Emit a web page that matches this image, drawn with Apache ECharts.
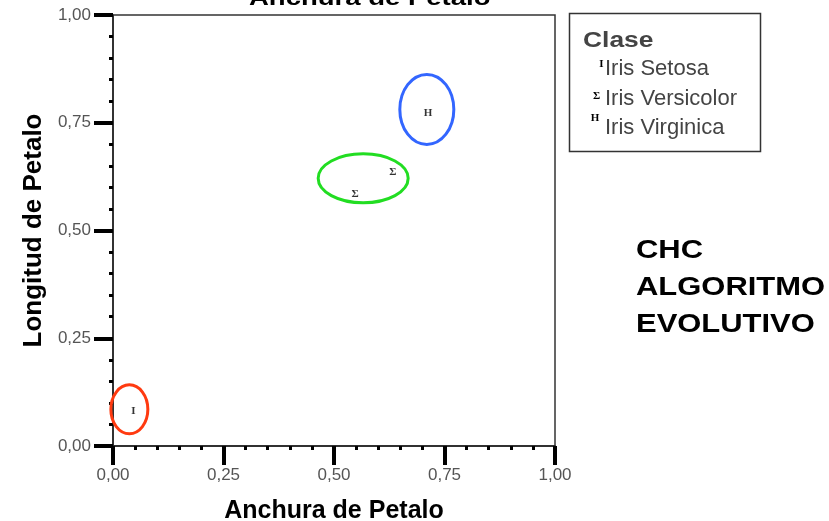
<!DOCTYPE html>
<html><head><meta charset="utf-8">
<script src="https://cdn.jsdelivr.net/npm/echarts@6/dist/echarts.min.js"></script>
<style>html,body{margin:0;padding:0;background:#fff}#c{width:829px;height:521px}</style>
</head><body><div id="c"></div>
<script>
// ---- data ----
const seriesNames = ['Iris Setosa', 'Iris Versicolor', 'Iris Virginica'];
const seriesGlyphs = ['I', 'Σ', 'H'];
const setosaX = [0.046], setosaY = [0.080];
const versicolorX = [0.548, 0.633], versicolorY = [0.584, 0.636];
const virginicaX = [0.713], virginicaY = [0.772];
const xTickValues = [0, 0.25, 0.5, 0.75, 1];
const yTickValues = [0, 0.25, 0.5, 0.75, 1];
// annotation ellipse centres (data units): Setosa, Versicolor, Virginica
const ellipseX = [0.037, 0.566, 0.710];
const ellipseY = [0.085, 0.621, 0.781];
const titleText = 'Anchura de Petalo';
const xName = 'Anchura de Petalo';
const yName = 'Longitud de Petalo';
const legendTitle = 'Clase';
const sideText = ['CHC', 'ALGORITMO', 'EVOLUTIVO'];

const zip = (xs, ys) => xs.map((x, i) => [x, ys[i]]);
const seriesData = [zip(setosaX, setosaY), zip(versicolorX, versicolorY), zip(virginicaX, virginicaY)];
const fmt = v => v.toFixed(2).replace('.', ',');

const chart = echarts.init(document.getElementById('c'), null, {renderer: 'canvas'});
const axisCommon = {
  type: 'value', min: 0, max: 1, interval: 0.25,
  nameLocation: 'middle',
  nameTextStyle: {fontFamily: 'Liberation Sans', fontWeight: 'bold', color: '#000'},
  axisLine: {show: true, lineStyle: {color: '#222', width: 1.5}},
  axisTick: {show: true, inside: false, length: 19, lineStyle: {color: '#000', width: 4}},
  minorTick: {show: true, splitNumber: 5, length: 4, lineStyle: {color: '#000', width: 3}},
  splitLine: {show: false},
  axisLabel: {fontFamily: 'Liberation Sans', fontSize: 17, color: '#555', formatter: fmt}
};
chart.setOption({
  animation: false,
  grid: {left: 113, top: 15, right: 274, bottom: 75, outerBoundsMode: 'none', containLabel: false,
    show: true, borderColor: '#333', borderWidth: 1.5, backgroundColor: 'transparent'},
  xAxis: Object.assign({}, axisCommon, {
    name: xName, nameGap: 53,
    nameTextStyle: Object.assign({}, axisCommon.nameTextStyle, {fontSize: 25}),
    axisLabel: Object.assign({}, axisCommon.axisLabel, {margin: 21})
  }),
  yAxis: Object.assign({}, axisCommon, {
    name: yName, nameGap: 66,
    nameTextStyle: Object.assign({}, axisCommon.nameTextStyle, {fontSize: 26}),
    axisLabel: Object.assign({}, axisCommon.axisLabel, {margin: 22})
  }),
  series: seriesNames.map((n, i) => ({
    name: n, type: 'scatter', data: seriesData[i],
    symbol: 'circle', symbolSize: 1,
    itemStyle: {color: 'rgba(0,0,0,0)'},
    emphasis: {disabled: true},
    label: {show: true, position: 'inside', formatter: seriesGlyphs[i],
      fontFamily: 'Liberation Serif', fontWeight: 'bold', fontSize: 11, color: '#000'}
  }))
});

const ellipseColors = ['#ff3a10', '#22dd22', '#3366ff'];
const ellipseR = [[18.5, 24.5], [45, 24.5], [27, 35]];
const graphics = [];
ellipseX.forEach((x, i) => {
  const p = chart.convertToPixel({xAxisIndex: 0, yAxisIndex: 0}, [x, ellipseY[i]]);
  graphics.push({type: 'ellipse', shape: {cx: p[0], cy: p[1], rx: ellipseR[i][0], ry: ellipseR[i][1]},
    style: {fill: 'none', stroke: ellipseColors[i], lineWidth: 3}, z: 10});
});
// title (cut by the top edge)
graphics.push({type: 'text', x: 249, y: -1, scaleX: 1.25,
  style: {text: titleText, fontFamily: 'Liberation Sans', fontWeight: 'bold', fontSize: 22, fill: '#000', align: 'left', verticalAlign: 'middle'}});
// legend box
graphics.push({type: 'rect', shape: {x: 569.5, y: 13.5, width: 191, height: 138},
  style: {fill: '#fff', stroke: '#333', lineWidth: 1.5}});
graphics.push({type: 'text', x: 583, y: 41, scaleX: 1.2,
  style: {text: legendTitle, fontFamily: 'Liberation Sans', fontWeight: 'bold', fontSize: 22, fill: '#444', align: 'left', verticalAlign: 'middle'}});
const legY = [69, 99, 128];
const glyphPos = [[601.5, 64], [596.5, 96], [595, 118]];
seriesNames.forEach((n, i) => {
  graphics.push({type: 'text', x: glyphPos[i][0], y: glyphPos[i][1],
    style: {text: seriesGlyphs[i], fontFamily: 'Liberation Serif', fontWeight: 'bold', fontSize: 11, fill: '#000', align: 'center', verticalAlign: 'middle'}});
  graphics.push({type: 'text', x: 605, y: legY[i],
    style: {text: n, fontFamily: 'Liberation Sans', fontSize: 22, fill: '#444', align: 'left', verticalAlign: 'middle'}});
});
// side text
sideText.forEach((t, i) => {
  graphics.push({type: 'text', x: 636, y: 251 + i * 37, scaleX: 1.19,
    style: {text: t, fontFamily: 'Liberation Sans', fontWeight: 'bold', fontSize: 26, fill: '#000', align: 'left', verticalAlign: 'middle'}});
});
chart.setOption({graphic: graphics});
</script>
</body></html>
